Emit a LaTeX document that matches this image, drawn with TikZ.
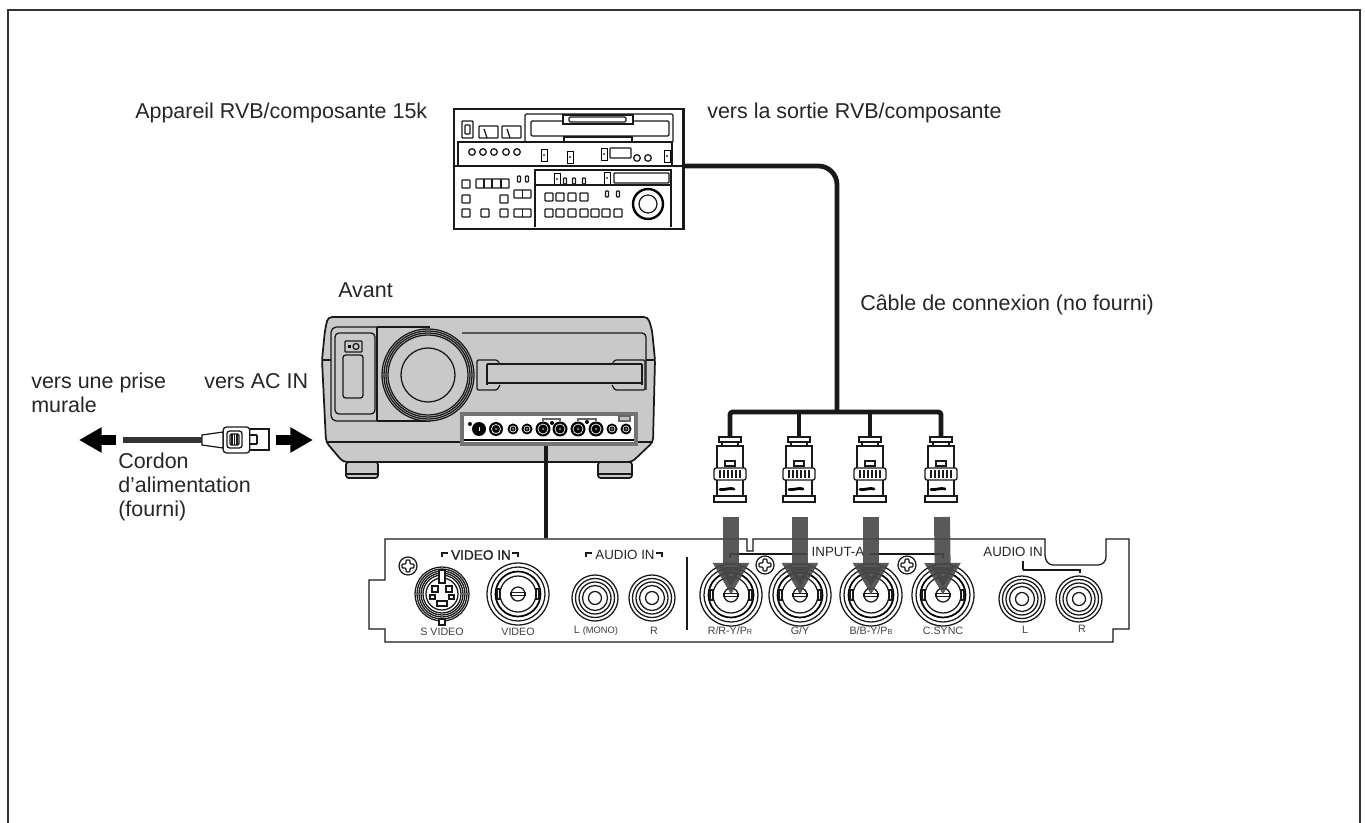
\documentclass[tikz,border=0pt]{standalone}
\usepackage{fontspec}
\setmainfont{Liberation Sans}
\usetikzlibrary{positioning, calc, arrows.meta}

\begin{document}
\begin{tikzpicture}[
    x=0.75pt, y=-0.75pt,
    lbl/.style={anchor=west, inner sep=0pt, align=left, text=black!85, font=\fontsize{16.1}{18}\selectfont},
    tinylbl/.style={inner sep=0pt, text=black!75, font=\fontsize{8}{9}\selectfont},
    panellbl/.style={inner sep=0pt, text=black!85, font=\fontsize{10}{11}\selectfont},
    thinline/.style={line width=0.95pt, black!90},
    bodyline/.style={line width=1.3pt, black!90},
    cable/.style={line width=3.6pt, black!90},
    cord/.style={line width=3.8pt, black!80},
    blockarrow/.style={line width=7.5pt, black, -{Triangle[width=18pt,length=17pt]}},
    feedarrow/.style={line width=12pt, black!72, opacity=0.9, -{Triangle[width=25.5pt,length=24pt]}},
    vtrbox/.style={draw, line width=2.2pt, black!90, minimum width=171.8pt, minimum height=90pt},
    jackpanel/.style={draw=black!55, fill=white, line width=3pt, minimum width=131pt, minimum height=23pt},
    plugbody/.style={draw, thinline, fill=white, rounded corners=2.5pt, minimum width=20pt, minimum height=19.5pt},
    btn/.style={thinline, rounded corners=0.6pt},
    bncjack/.pic={
        \coordinate (-c) at (0,0);
        \draw[thinline, fill=white] (0,0) circle (31);
        \draw[thinline] (0,0) circle (27);
        \draw[line width=1.3pt] (0,0) circle (22.5);
        \draw[thinline] (0,0) circle (18);
        \draw[thinline, fill=white] (-21,-5) rectangle (-18,5);
        \draw[thinline, fill=white] (18,-5) rectangle (21,5);
        \draw[thinline] (0,0) circle (7);
        \draw[thinline] (-7,-1.5) rectangle (7,1.5);
    },
    rcajack/.pic={
        \draw[thinline, fill=white] (0,0) circle (23);
        \draw[thinline] (0,0) circle (19.5);
        \draw[thinline] (0,0) circle (16);
        \draw[thinline] (0,0) circle (12.5);
        \draw[thinline] (0,0) circle (6.5);
    },
    svideojack/.pic={
        \foreach \r in {27,25,23,21,19} {\draw[thinline] (0,0) circle (\r);}
        \draw[thinline] (0,0) circle (16);
        \draw[thinline, fill=white] (-3,-24) rectangle (3,-11);
        \draw[thinline, fill=white] (-3,25) rectangle (3,31);
        \draw[thinline] (-10,-8) rectangle (-4,-2);
        \draw[thinline] (4,-8) rectangle (10,-2);
        \draw[thinline] (-12,1) rectangle (-7,5);
        \draw[thinline] (7,1) rectangle (12,5);
        \draw[thinline] (-5,7) rectangle (5,12);
    },
    bncplug/.pic={
        \coordinate (-top) at (0,-33);
        \draw[thinline, fill=white] (-11,-33) rectangle (11,-28);
        \draw[thinline, fill=white] (-8,-28) rectangle (8,-24);
        \draw[thinline, fill=white] (-13,-24) rectangle (13,26);
        \draw[thinline] (-5,-9) rectangle (5,-4);
        \draw[thinline, fill=white, rounded corners=1.5pt] (-16,-2) rectangle (16,10);
        \foreach \x in {-10,-6,-2,2,6,10} {\draw[thinline] (\x,0) -- (\x,8);}
        \draw[line width=2.1pt, line cap=round] (-10,19.5) .. controls (-4,20) and (0,17.5) .. (4,19);
        \draw[thinline, fill=white] (-16,26) rectangle (16,32);
    },
    fillscrew/.pic={
        \draw[thinline, fill=white] (0,0) circle (9);
        \draw[thinline, rounded corners=0.8pt] (-2,-6) -- (2,-6) -- (2,-2) -- (6,-2) -- (6,2) -- (2,2) -- (2,6) -- (-2,6) -- (-2,2) -- (-6,2) -- (-6,-2) -- (-2,-2) -- cycle;
    }
]
    \useasboundingbox (0,0) rectangle (1365,823);

    % --- Frame ---
    \draw[line width=1pt, black!80] (8,823) -- (8,10) -- (1360,10) -- (1360,823);

    % --- Labels ---
    \node[lbl] (srclabel) at (135,113) {Appareil RVB/composante 15k};
    \node[lbl] (outlabel) at (707,113) {vers la sortie RVB/composante};
    \node[lbl] (frontlabel) at (338,290) {Avant};
    \node[lbl] (cablelabel) at (860,305) {Câble de connexion (no fourni)};
    \node[lbl] (walllabel) at (31,393) {vers une prise\\murale};
    \node[lbl] (aclabel) at (204,381) {vers AC IN};
    \node[lbl] (cordlabel) at (118,487) {Cordon\\d’alimentation\\(fourni)};

    % --- Source deck ---
    \node[vtrbox] (vtr) at (568.5,169) {};
    \coordinate (vtrout) at (683,166);
    \draw[thinline] (454,166) -- (683,166);
    \draw[thinline, rounded corners=1pt] (525,142) -- (525,114) -- (673,114) -- (673,142);
    \draw[thinline, rounded corners=1pt] (531,121) rectangle (669,136);
    \draw[thinline, fill=white] (563,115) rectangle (633,124);
    \draw[thinline, rounded corners=1pt] (569,117) rectangle (626,122);
    \draw[thinline] (564,142) -- (564,137) -- (632,137) -- (632,142);
    \draw[thinline] (458,166) -- (458,142) -- (672,142) -- (672,166);
    \draw[btn] (462,121) rectangle (473,138);
    \draw[btn] (465,125) rectangle (470,134);
    \draw[btn] (479,126) rectangle (498,138);
    \draw[btn] (502,126) rectangle (521,138);
    \draw[thinline] (484,129) -- (487,138);
    \draw[thinline] (507,129) -- (510,138);
    \foreach \x in {472,483,494,506,517} {\draw[thinline] (\x,152) circle (3.3);}
    \foreach \x/\y in {544/155,570/157,604/154,667/156,557/179,607/178} {
        \draw[line width=0.7pt] (\x-3,\y-6) rectangle (\x+3,\y+6);
        \fill[black!60] (\x-1.2,\y-1.2) rectangle (\x+1.2,\y+1.2);
    }
    \draw[btn] (610,148) rectangle (631,158);
    \draw[thinline] (637,158) circle (3.3);
    \draw[thinline] (648,158) circle (3.3);
    \draw[thinline] (535,227) -- (535,170) -- (671,170) -- (671,227);
    \draw[thinline] (535,185) -- (671,185);
    \draw[btn] (614,173) rectangle (669,183);
    \foreach \x/\y in {466/184,466/199,466/213,485/213,504/199,504/213,549/197,560/197,572/197,584/197,549/213,560/213,572/213,584/213,595/213,606/213,618/213} {
        \draw[btn] (\x-4,\y-4) rectangle (\x+4,\y+4);
    }
    \draw[btn] (476,179) rectangle (509,188);
    \foreach \x in {484,492,501} {\draw[thinline] (\x,179) -- (\x,188);}
    \draw[btn] (514,190) rectangle (531,198);
    \draw[thinline] (522.5,190) -- (522.5,198);
    \draw[btn] (514,209) rectangle (531,217);
    \draw[thinline] (522.5,209) -- (522.5,217);
    \foreach \x/\y in {519/179,527/179,565/181,574/181,584/181,607/194,618/194} {
        \draw[btn] (\x-1.5,\y-3) rectangle (\x+1.5,\y+3);
    }
    \draw[line width=1.8pt] (648,204) circle (15);
    \draw[thinline] (648,204) circle (9);

    % --- Cable from the deck ---
    \coordinate (bus) at (837,412);
    \draw[cable, rounded corners=14pt] (vtrout) -- (837,166) -- (bus);

    % --- Projector ---
    \draw[bodyline, fill=black!21, rounded corners=2pt] (346,462) rectangle (378,478);
    \draw[bodyline, fill=black!21, rounded corners=2pt] (598,462) rectangle (632,478);
    \draw[thinline] (347,474) -- (377,474);
    \draw[thinline] (599,474) -- (631,474);
    \draw[bodyline, fill=black!21, rounded corners=3pt] (328,317) -- (648,317) -- (652,330) -- (655,360) -- (653,442) -- (632,462) -- (343,462) -- (326,442) -- (322,360) -- (325,330) -- cycle;
    \draw[thinline] (323,360) -- (331,360);
    \draw[thinline] (646,360) -- (654,360);
    \draw[thinline] (326,442) -- (460,442);
    \draw[thinline] (638,442) -- (653,442);
    \draw[thinline, rounded corners=4pt] (377,327) -- (331,327) -- (331,421) -- (377,421);
    \draw[thinline] (377,327) -- (430,327);
    \draw[thinline] (377,421) -- (430,421);
    \draw[thinline] (377,327) -- (377,421);
    \draw[thinline, rounded corners=3pt] (335,333) rectangle (375,414);
    \draw[btn] (345,341) rectangle (362,352);
    \draw[thinline] (356,346.5) circle (3);
    \fill (347.5,345) rectangle (350.5,348);
    \draw[btn, rounded corners=2pt] (343,355) rectangle (363,398);
    \draw[thinline, fill=black!21] (428,375) circle (46);
    \draw[thinline] (428,375) circle (44);
    \draw[thinline] (428,375) circle (42);
    \draw[thinline] (428,375) circle (40);
    \draw[thinline] (428,375) circle (27);
    \draw[thinline, rounded corners=3pt] (462,333) -- (646,333) -- (646,390);
    \draw[thinline] (500,364) -- (612,364);
    \draw[thinline] (500,383) -- (612,383);
    \draw[thinline] (487,364) -- (487,385);
    \draw[thinline] (642,364) -- (642,385);
    \draw[thinline, rounded corners=1pt] (500,364) -- (497,360) -- (477,360) -- (477,390) -- (497,390) -- (500,385);
    \draw[thinline] (487,364) -- (500,364);
    \draw[thinline] (487,383) -- (500,383);
    \draw[thinline, rounded corners=1pt] (612,364) -- (615,360) -- (645,360) -- (645,390) -- (615,390) -- (612,385);
    \draw[thinline] (612,364) -- (642,364);
    \draw[thinline] (612,383) -- (642,383);

    % --- Front connector strip ---
    \node[jackpanel] (frontpanel) at (549,429) {};
    \draw[line width=1.1pt] (464,440) -- (634,440);
    \foreach \x/\r in {496/7,543/7.5,560/7.5,578/7.5,596/7.5,513/5.5,527/5.5,612/5.5,626/5.5} {
        \fill (\x,429) circle (\r);
        \draw[white, line width=0.5pt] (\x,429) circle (\r-2.5);
        \fill[black!55] (\x,429) circle (1.5);
    }
    \fill (479,429) circle (7);
    \draw[white, line width=0.6pt] (479,427) -- (479,431);
    \fill (470,424) circle (2);
    \fill (552,423) circle (2);
    \fill (587,422) circle (2);
    \draw[thinline, black!60, fill=black!25] (619,416) rectangle (630,421);
    \draw[thinline, black!60] (543,421) -- (543,419) -- (560,419) -- (560,421);
    \draw[thinline, black!60] (578,421) -- (578,419) -- (596,419) -- (596,421);

    % --- Rear panel ---
    \node[inner sep=0pt] (rearpanel) at (546,539) {};
    \draw[cable, line width=3pt] (rearpanel |- frontpanel.south) -- (rearpanel);
    \draw[thinline, rounded corners=0pt] (385,539) -- (747,539) -- (747,551) -- (753,551) -- (753,539) -- (1045,539) -- (1045,555) to[out=-90,in=180] (1053,565) -- (1098,565) to[out=0,in=-90] (1106,557) -- (1106,539) -- (1129,539) -- (1129,629) -- (1113,629) -- (1113,642) -- (385,642) -- (385,629) -- (369,629) -- (369,580) -- (385,580) -- cycle;

    \pic (screwA) at (408,566) {fillscrew};
    \pic (screwB) at (765,565) {fillscrew};
    \pic (screwC) at (907,565) {fillscrew};

    \pic (jackS) at (442,594) {svideojack};
    \pic (jackVideo) at (518,594) {bncjack};
    \pic (jackAudioL) at (595,598) {rcajack};
    \pic (jackAudioR) at (652,598) {rcajack};
    \pic (jackA) at (731,595) {bncjack};
    \pic (jackB) at (800,595) {bncjack};
    \pic (jackC) at (871,595) {bncjack};
    \pic (jackD) at (943,595) {bncjack};
    \pic (jackInL) at (1022,599) {rcajack};
    \pic (jackInR) at (1079,599) {rcajack};

    \draw[thinline] (687,557) -- (687,630);

    % --- Panel texts ---
    \node[panellbl, font=\fontsize{10.2}{11}\selectfont] (videoin) at (481,555) {\addfontfeature{FakeBold=1.5}VIDEO IN};
    \draw[thinline] (442,557) -- (442,553) -- (448,553);
    \draw[thinline] (512,553) -- (518,553) -- (518,557);
    \node[panellbl] (audioin) at (625,555) {AUDIO IN};
    \draw[thinline] (586,557) -- (586,553) -- (592,553);
    \draw[thinline] (656,553) -- (662,553) -- (662,557);
    \node[panellbl] (inputa) at (838,552) {INPUT-A};
    \draw[thinline] (730,558) -- (730,554) -- (807,554);
    \draw[thinline] (870,554) -- (943,554) -- (943,558);
    \node[panellbl] (audioinb) at (1013,552) {AUDIO IN};
    \draw[thinline] (1023,561) -- (1023,570);
    \draw[thinline] (1023,570) -- (1080,570) -- (1080,573);

    \node[tinylbl] (labS) at (442,632) {S VIDEO};
    \node[tinylbl] (labVideo) at (518,632) {VIDEO};
    \node[tinylbl] (labMono) at (596,631) {L {\fontsize{7}{9}\selectfont (MONO)}};
    \node[tinylbl] (labAudioR) at (654,631) {R};
    \node[tinylbl] (labA) at (730,631) {R/R-Y/P{\fontsize{5.5}{6}\selectfont R}};
    \node[tinylbl] (labB) at (800,631) {G/Y};
    \node[tinylbl] (labC) at (871,631) {B/B-Y/P{\fontsize{5.5}{6}\selectfont B}};
    \node[tinylbl] (labD) at (943,631) {C.SYNC};
    \node[tinylbl] (labInL) at (1025,630) {L};
    \node[tinylbl] (labInR) at (1082,629) {R};

    % --- Plugs and their cables ---
    \pic (plugA) at (730,470) {bncplug};
    \pic (plugB) at (799,470) {bncplug};
    \pic (plugC) at (870,470) {bncplug};
    \pic (plugD) at (941,470) {bncplug};
    \draw[cable, rounded corners=2pt] (plugA-top) |- (bus) -| (plugD-top);
    \draw[cable] (plugB-top) -- (plugB-top |- bus);
    \draw[cable] (plugC-top) -- (plugC-top |- bus);

    \coordinate (feedA) at (731,517);
    \coordinate (feedB) at (800,517);
    \coordinate (feedC) at (871,517);
    \coordinate (feedD) at (942,517);
    \draw[feedarrow] (feedA) -- (jackA-c);
    \draw[feedarrow] (feedB) -- (jackB-c);
    \draw[feedarrow] (feedC) -- (jackC-c);
    \draw[feedarrow] (feedD) -- (jackD-c);

    % --- Mains cord ---
    \node[plugbody] (plug) at (236.5,440) {};
    \coordinate (cordend) at (123,440);
    \coordinate (bootend) at (202,440);
    \draw[thinline, fill=white] (bootend |- 0,435) -- (223,432) -- (223,448) -- (bootend |- 0,445) -- cycle;
    \draw[cord] (cordend) -- (bootend);
    \draw[thinline] (plug.east |- 0,429) -- (269,429) -- (269,450) -- (plug.east |- 0,450);
    \draw[thinline] (257,435) -- (257,444);
    \draw[thinline] (250,435) -- (257,435);
    \draw[thinline] (250,444) -- (257,444);
    \draw[thinline, rounded corners=2pt] (227,431) rectangle (242,448);
    \draw[thinline, rounded corners=1pt] (230,434) rectangle (239,445);
    \foreach \x in {232,234.5,237} {\draw[thinline] (\x,434) -- (\x,445);}

    \coordinate (wallarrow) at (79,440);
    \coordinate (wallstart) at (116,440);
    \coordinate (acstart) at (276,440);
    \coordinate (acarrow) at (313,440);
    \draw[blockarrow] (wallstart) -- (wallarrow);
    \draw[blockarrow] (acstart) -- (acarrow);

\end{tikzpicture}
\end{document}
